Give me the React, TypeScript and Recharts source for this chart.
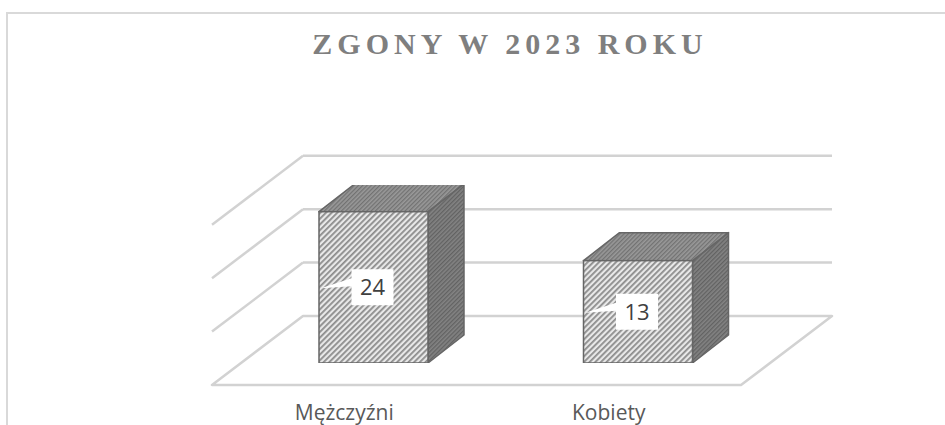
import React from 'react';
import { BarChart, Bar, XAxis, YAxis, CartesianGrid } from 'recharts';

// ---- data ----
const categories: string[] = ['Mężczyźni', 'Kobiety'];
const deaths: number[] = [24, 13];
const gridValues: number[] = [-10, 2, 14, 26];
const valueDomain: [number, number] = [-10, 30];
const chartTitle = 'ZGONY W 2023 ROKU';

const data = categories.map((name, i) => ({ name, value: deaths[i] }));

// ---- 3D geometry (oblique projection offsets) ----
const BAR_DEPTH = { dx: 36, dy: -28 };
const FLOOR_FRONT = { dx: -29, dy: 22 };
const BACK_WALL = { dx: 62, dy: -47 };
const LINE_COLOR = '#d2d2d2';

function GridLine(props: any) {
  const { x1, x2, y1, y, height, index } = props;
  const bottom = y + height;
  const isFloor = Math.abs(y1 - bottom) < 1;
  const isTopEdge = Math.abs(y1 - y) < 1;
  if (isTopEdge) return <g key={`g-${index}`} />;
  const bx1 = x1 + BACK_WALL.dx;
  const bx2 = x2 + BACK_WALL.dx;
  const by = y1 + BACK_WALL.dy;
  const fx1 = x1 + FLOOR_FRONT.dx;
  const fx2 = x2 + FLOOR_FRONT.dx;
  const fy = y1 + FLOOR_FRONT.dy;
  if (isFloor) {
    return (
      <g key={`g-${index}`}>
        <polygon
          points={`${fx1},${fy} ${fx2},${fy} ${bx2},${by} ${bx1},${by}`}
          fill="none"
          stroke={LINE_COLOR}
          strokeWidth={2.5}
          strokeLinejoin="round"
        />
      </g>
    );
  }
  return (
    <g key={`g-${index}`}>
      <line x1={bx1} y1={by} x2={bx2} y2={by} stroke={LINE_COLOR} strokeWidth={2.5} />
      <line x1={bx1} y1={by} x2={fx1} y2={fy} stroke={LINE_COLOR} strokeWidth={2.5} />
    </g>
  );
}

function Box3D(props: any) {
  const { x, y, width, height, background, value } = props;
  const bottom = background ? background.y + background.height : y + height;
  const dx = BAR_DEPTH.dx;
  const dy = BAR_DEPTH.dy;
  const stroke = '#666666';
  const cx = x + width / 2 - 1;
  const cy = (y + bottom) / 2;
  const bw = 42;
  const bh = 36;
  const bl = cx - bw / 2;
  const bt = cy - bh / 2;
  const tipX = x + 2;
  return (
    <g>
      <polygon
        points={`${x + width},${y} ${x + width + dx},${y + dy} ${x + width + dx},${bottom + dy} ${x + width},${bottom}`}
        fill="url(#sideHatch)"
        stroke={stroke}
        strokeWidth={1.5}
        strokeLinejoin="round"
      />
      <polygon
        points={`${x},${y} ${x + width},${y} ${x + width + dx},${y + dy} ${x + dx},${y + dy}`}
        fill="url(#topHatch)"
        stroke={stroke}
        strokeWidth={1.5}
        strokeLinejoin="round"
      />
      <rect x={x} y={y} width={width} height={bottom - y} fill="url(#frontHatch)" stroke={stroke} strokeWidth={1.5} />
      <path
        d={`M${bl},${bt} L${bl + bw},${bt} L${bl + bw},${bt + bh} L${bl},${bt + bh} L${bl},${cy - 1} L${tipX},${cy + 1} L${bl},${cy - 9} Z`}
        fill="#ffffff"
      />
      <text
        x={cx}
        y={cy + 8}
        textAnchor="middle"
        fontFamily="'Open Sans', sans-serif"
        fontSize={22}
        fill="#404040"
      >
        {value}
      </text>
    </g>
  );
}

function CategoryTick(props: any) {
  const { x, y, payload } = props;
  return (
    <text
      x={x + FLOOR_FRONT.dx}
      y={y + 49}
      textAnchor="middle"
      fontFamily="'Open Sans', sans-serif"
      fontSize={21}
      fill="#595959"
    >
      {payload.value}
    </text>
  );
}

export default function App() {
  return (
    <div style={{ position: 'absolute', left: 0, top: 0, width: 945, height: 425, overflow: 'hidden', background: '#ffffff' }}>
      <div
        style={{
          position: 'absolute',
          left: 6,
          top: 12,
          width: 937,
          height: 411,
          borderLeft: '2px solid #d9d9d9',
          borderTop: '2px solid #d9d9d9',
        }}
      />
      <div style={{ position: 'absolute', left: 0, top: 0 }}>
        <BarChart
          width={945}
          height={425}
          data={data}
          margin={{ top: 185, right: 175, bottom: 22, left: 241 }}
        >
          <defs>
            <pattern id="frontHatch" patternUnits="userSpaceOnUse" width="4" height="4" patternTransform="rotate(45)">
              <rect x="0" y="0" width="4" height="4" fill="#e8e8e8" />
              <rect x="0" y="0" width="1.8" height="4" fill="#8c8c8c" />
            </pattern>
            <pattern id="topHatch" patternUnits="userSpaceOnUse" width="3" height="3" patternTransform="rotate(45)">
              <rect x="0" y="0" width="3" height="3" fill="#999999" />
              <rect x="0" y="0" width="1.3" height="3" fill="#727272" />
            </pattern>
            <pattern id="sideHatch" patternUnits="userSpaceOnUse" width="3" height="3" patternTransform="rotate(45)">
              <rect x="0" y="0" width="3" height="3" fill="#838383" />
              <rect x="0" y="0" width="1.3" height="3" fill="#626262" />
            </pattern>
          </defs>
          <CartesianGrid vertical={false} horizontal={GridLine} />
          <XAxis
            dataKey="name"
            axisLine={false}
            tickLine={false}
            height={40}
            interval={0}
            tick={<CategoryTick />}
          />
          <YAxis hide type="number" domain={valueDomain} ticks={gridValues} allowDataOverflow />
          <Bar dataKey="value" barSize={109} shape={<Box3D />} isAnimationActive={false} />
        </BarChart>
      </div>
      <svg
        width={945}
        height={425}
        style={{ position: 'absolute', left: 0, top: 0, pointerEvents: 'none' }}
      >
        <text
          x={510}
          y={54}
          textAnchor="middle"
          fontFamily="'Liberation Serif', 'Times New Roman', serif"
          fontWeight="bold"
          fontSize={30}
          letterSpacing={5}
          fill="#7f7f7f"
        >
          {chartTitle}
        </text>
      </svg>
    </div>
  );
}
